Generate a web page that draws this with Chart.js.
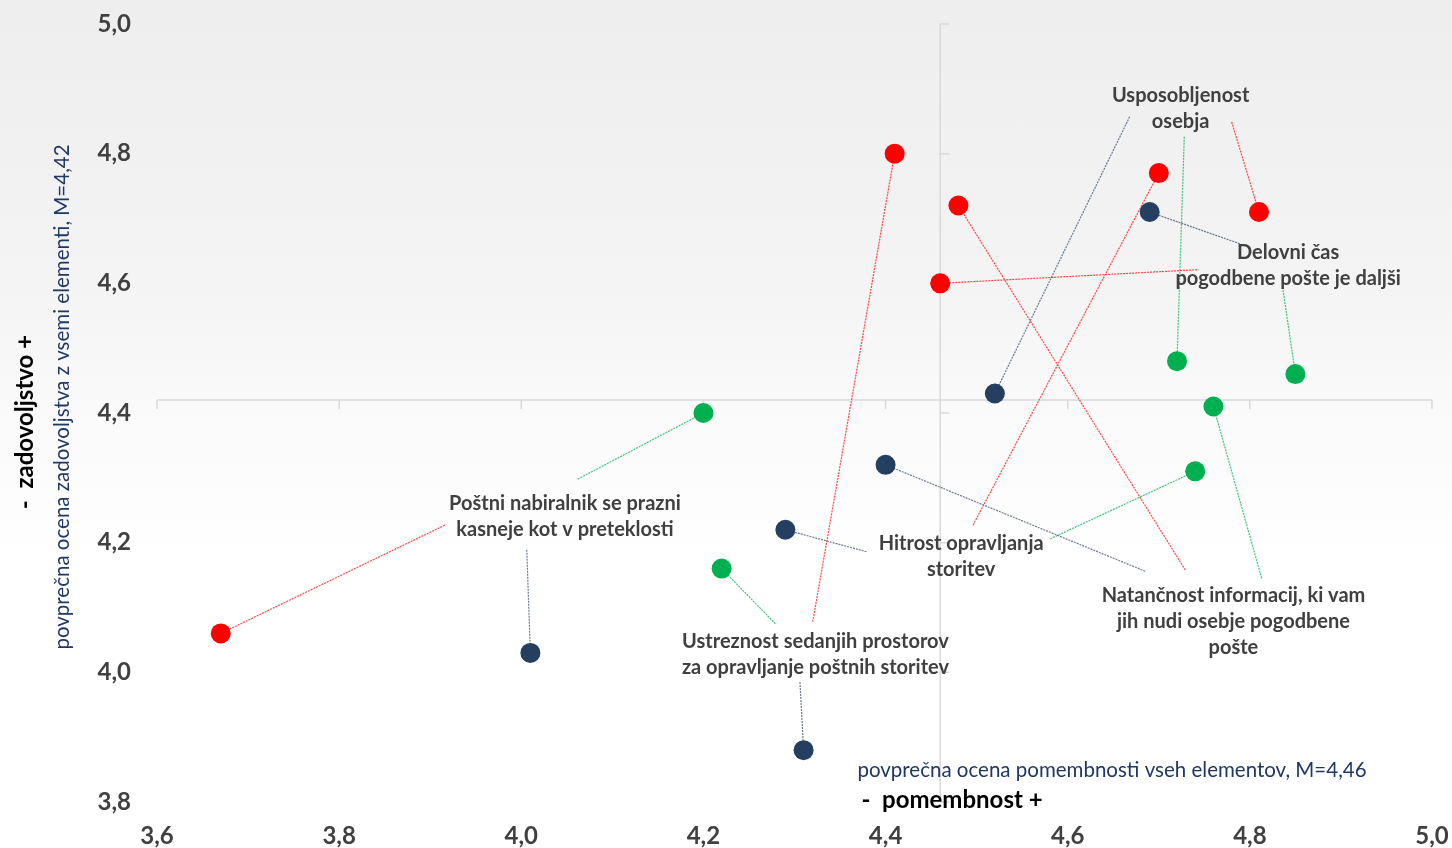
<!DOCTYPE html>
<html>
<head>
<meta charset="utf-8">
<script src="https://cdn.jsdelivr.net/npm/chart.js@4/dist/chart.umd.min.js"></script>
<style>
  html, body { margin: 0; padding: 0; }
  body {
    width: 1452px; height: 848px; overflow: hidden;
    background: linear-gradient(to bottom, #eeeeee 0%, #f3f3f3 30%, #fbfbfb 52%, #ffffff 66%, #ffffff 100%);
  }
  #wrap { position: relative; width: 1452px; height: 848px; }
</style>
</head>
<body>
<div id="wrap"><canvas id="chart" width="1452" height="848"></canvas></div>
<script>
// Elements of the survey (one label per element, split into display lines)
const categories = [
  ['Usposobljenost', 'osebja'],
  ['Delovni čas', 'pogodbene pošte je daljši'],
  ['Poštni nabiralnik se prazni', 'kasneje kot v preteklosti'],
  ['Hitrost opravljanja', 'storitev'],
  ['Natančnost informacij, ki vam', 'jih nudi osebje pogodbene', 'pošte'],
  ['Ustreznost sedanjih prostorov', 'za opravljanje poštnih storitev']
];

// Importance (x) and satisfaction (y) per element, for the three groups
const redImportance    = [4.81, 4.46, 3.67, 4.70, 4.48, 4.41];
const redSatisfaction  = [4.71, 4.60, 4.06, 4.77, 4.72, 4.80];
const navyImportance   = [4.52, 4.69, 4.01, 4.29, 4.40, 4.31];
const navySatisfaction = [4.43, 4.71, 4.03, 4.22, 4.32, 3.88];
const greenImportance   = [4.72, 4.85, 4.20, 4.74, 4.76, 4.22];
const greenSatisfaction = [4.48, 4.46, 4.40, 4.31, 4.41, 4.16];

// Overall means (axis crossing point)
const meanImportance = 4.46;
const meanSatisfaction = 4.42;

// Axis tick values
const xTicks = [3.6, 3.8, 4.0, 4.2, 4.4, 4.6, 4.8, 5.0];
const yTicks = [3.8, 4.0, 4.2, 4.4, 4.6, 4.8, 5.0];

// Annotation layout (in axis units): label centre and first line, plus the
// start of each leader line for the red / navy / green point of that label
const labelAnchor = [
  { x: 4.724, y: 4.889 },
  { x: 4.842, y: 4.647 },
  { x: 4.048, y: 4.260 },
  { x: 4.483, y: 4.198 },
  { x: 4.782, y: 4.118 },
  { x: 4.323, y: 4.047 }
];
const leaderStart = {
  red:   [[4.780, 4.849], [4.742, 4.621], [3.916, 4.227], [4.496, 4.227], [4.729, 4.158], [4.320, 4.078]],
  navy:  [[4.668, 4.857], [4.789, 4.661], [4.006, 4.189], [4.379, 4.186], [4.685, 4.156], [4.306, 3.985]],
  green: [[4.728, 4.826], [4.836, 4.594], [4.062, 4.298], [4.581, 4.206], [4.813, 4.145], [4.279, 4.075]]
};

const COLORS = { red: '#ff0000', navy: '#243f60', green: '#00b050' };
const LEADER = { red: 'rgba(255,40,40,0.85)', navy: 'rgba(60,80,110,0.75)', green: 'rgba(0,176,80,0.75)' };
const FONT = 'Lato, "Open Sans", sans-serif';

const series = {
  red:   { xs: redImportance,   ys: redSatisfaction },
  navy:  { xs: navyImportance,  ys: navySatisfaction },
  green: { xs: greenImportance, ys: greenSatisfaction }
};

const datasets = [];
// point markers on top
Object.keys(series).forEach((key) => {
  const s = series[key];
  datasets.push({
    label: key,
    data: s.xs.map((x, i) => ({ x, y: s.ys[i] })),
    backgroundColor: COLORS[key],
    borderColor: COLORS[key],
    pointRadius: 10,
    pointBorderWidth: 0,
    order: 1
  });
});
// leader lines from each label to its points
Object.keys(series).forEach((key) => {
  const s = series[key];
  s.xs.forEach((x, i) => {
    datasets.push({
      label: key + '-leader-' + i,
      data: [{ x: leaderStart[key][i][0], y: leaderStart[key][i][1] }, { x, y: s.ys[i] }],
      showLine: true,
      borderColor: LEADER[key],
      borderWidth: 1.2,
      borderDash: [2, 1],
      pointRadius: 0,
      order: 2
    });
  });
});

const fmt = (v) => v.toFixed(1).replace('.', ',');

// crossing mean lines with small tick marks
const crossLines = {
  id: 'crossLines',
  beforeDatasetsDraw(chart) {
    const { ctx, chartArea: a, scales: { x, y } } = chart;
    const cx = x.getPixelForValue(meanImportance);
    const cy = y.getPixelForValue(meanSatisfaction);
    ctx.save();
    ctx.strokeStyle = '#d9d9d9';
    ctx.lineWidth = 1.5;
    ctx.beginPath();
    ctx.moveTo(cx, a.top); ctx.lineTo(cx, a.bottom);
    ctx.moveTo(a.left, cy); ctx.lineTo(a.right, cy);
    xTicks.forEach((t) => {
      const px = x.getPixelForValue(t);
      ctx.moveTo(px, cy); ctx.lineTo(px, cy + 9);
    });
    yTicks.forEach((t) => {
      const py = y.getPixelForValue(t);
      ctx.moveTo(cx, py); ctx.lineTo(cx + 9, py);
    });
    ctx.stroke();
    ctx.restore();
  }
};

// element labels
const elementLabels = {
  id: 'elementLabels',
  afterDatasetsDraw(chart) {
    const { ctx, scales: { x, y } } = chart;
    ctx.save();
    ctx.font = 'bold 20px ' + FONT;
    ctx.fillStyle = '#404040';
    ctx.textAlign = 'center';
    ctx.textBaseline = 'middle';
    categories.forEach((lines, i) => {
      const px = x.getPixelForValue(labelAnchor[i].x);
      const py = y.getPixelForValue(labelAnchor[i].y);
      lines.forEach((line, j) => ctx.fillText(line, px, py + j * 26));
    });
    ctx.restore();
  }
};

// axis titles
const axisTitles = {
  id: 'axisTitles',
  afterDraw(chart) {
    const { ctx, chartArea: a } = chart;
    ctx.save();
    ctx.textAlign = 'center';
    ctx.textBaseline = 'middle';
    // horizontal axis
    ctx.fillStyle = '#1f3864';
    ctx.font = '20.5px ' + FONT;
    ctx.fillText('povprečna ocena pomembnosti vseh elementov, M=4,46', 1112, a.bottom - 32);
    ctx.fillStyle = '#000000';
    ctx.font = 'bold 24px ' + FONT;
    ctx.fillText('-  pomembnost +', 952, a.bottom - 2);
    // vertical axis
    ctx.save();
    ctx.translate(62, 397);
    ctx.rotate(-Math.PI / 2);
    ctx.fillStyle = '#1f3864';
    ctx.font = '20.5px ' + FONT;
    ctx.fillText('povprečna ocena zadovoljstva z vsemi elementi, M=4,42', 0, 0);
    ctx.restore();
    ctx.save();
    ctx.translate(25, 422);
    ctx.rotate(-Math.PI / 2);
    ctx.fillStyle = '#000000';
    ctx.font = 'bold 24px ' + FONT;
    ctx.fillText('-  zadovoljstvo +', 0, 0);
    ctx.restore();
    ctx.restore();
  }
};

new Chart(document.getElementById('chart'), {
  type: 'scatter',
  data: { datasets },
  options: {
    responsive: false,
    animation: false,
    layout: { padding: { top: 24, right: 20, left: 0, bottom: 0 } },
    plugins: { legend: { display: false }, tooltip: { enabled: false } },
    scales: {
      x: {
        type: 'linear',
        min: xTicks[0], max: xTicks[xTicks.length - 1],
        afterBuildTicks: (s) => { s.ticks = xTicks.map((v) => ({ value: v })); },
        afterFit: (s) => { s.height = 46; s.paddingLeft = 0; s.paddingRight = 0; },
        grid: { display: false, drawTicks: false },
        border: { display: false },
        ticks: {
          padding: 20,
          color: '#404040',
          font: { family: FONT, size: 24, weight: 'bold' },
          callback: (v) => fmt(v),
          maxRotation: 0
        }
      },
      y: {
        type: 'linear',
        min: yTicks[0], max: yTicks[yTicks.length - 1],
        afterBuildTicks: (s) => { s.ticks = yTicks.map((v) => ({ value: v })); },
        afterFit: (s) => { s.width = 157; s.paddingTop = 0; s.paddingBottom = 0; },
        grid: { display: false, drawTicks: false },
        border: { display: false },
        ticks: {
          padding: 26,
          color: '#404040',
          font: { family: FONT, size: 24, weight: 'bold' },
          callback: (v) => fmt(v)
        }
      }
    }
  },
  plugins: [crossLines, elementLabels, axisTitles]
});
</script>
</body>
</html>
